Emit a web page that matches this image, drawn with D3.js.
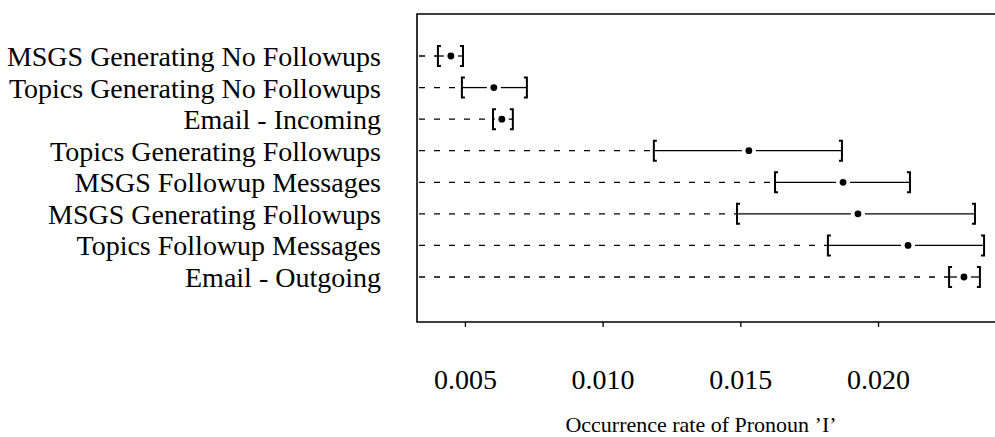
<!DOCTYPE html>
<html>
<head>
<meta charset="utf-8">
<script src="https://cdn.jsdelivr.net/npm/d3@7"></script>
<style>
  body { margin: 0; background: #fff; }
  text { font-family: "Liberation Serif", "Times New Roman", serif; fill: #000; }
</style>
</head>
<body>
<svg id="chart"></svg>
<script>
var width = 995;
var height = 437;

// groups, top to bottom
var categories = [
  "MSGS Generating No Followups",
  "Topics Generating No Followups",
  "Email - Incoming",
  "Topics Generating Followups",
  "MSGS Followup Messages",
  "MSGS Generating Followups",
  "Topics Followup Messages",
  "Email - Outgoing"
];
// interval low / estimate / high
var lower = [0.00402, 0.00489, 0.00602, 0.01186, 0.01626, 0.01488, 0.01818, 0.02258];
var mid   = [0.00449, 0.00605, 0.00634, 0.01531, 0.01873, 0.01927, 0.02109, 0.02312];
var upper = [0.00493, 0.00725, 0.00674, 0.01869, 0.02116, 0.02352, 0.02385, 0.02370];
var tickVals = [0.005, 0.010, 0.015, 0.020];
var xTitle = "Occurrence rate of Pronoun \u2019I\u2019";

var plotL = 417, plotT = 14, plotB = 322, plotR = 997;

var svg = d3.select("#chart").attr("width", width).attr("height", height);

var x = d3.scaleLinear().domain([0.00326, 0.02432]).range([plotL, plotR]);
var y = d3.scalePoint().domain(categories).range([56, 277]);

var rows = categories.map(function(c, i) {
  return {name: c, lo: lower[i], m: mid[i], hi: upper[i]};
});

// frame (left, top, bottom)
svg.append("path")
  .attr("d", "M" + plotR + "," + plotT + "H" + plotL + "V" + plotB + "H" + plotR)
  .attr("fill", "none")
  .attr("stroke", "#000")
  .attr("stroke-width", 1.6);

// row labels
svg.append("g").selectAll("text")
  .data(rows).enter().append("text")
  .attr("x", 381)
  .attr("y", function(d) { return y(d.name) + 10; })
  .attr("text-anchor", "end")
  .style("font-size", "28px")
  .text(function(d) { return d.name; });

var g = svg.append("g").selectAll("g")
  .data(rows).enter().append("g")
  .attr("transform", function(d) { return "translate(0," + y(d.name) + ")"; });

// dashed guide from the frame to the interval
g.append("line")
  .attr("x1", plotL + 2)
  .attr("x2", function(d) { return x(d.lo); })
  .attr("stroke", "#000")
  .attr("stroke-width", 1.3)
  .attr("stroke-dasharray", "6,9");

// whisker, broken around the dot
g.append("line")
  .attr("x1", function(d) { return x(d.lo); })
  .attr("x2", function(d) { return Math.max(x(d.lo), x(d.m) - 7); })
  .attr("stroke", "#000").attr("stroke-width", 1.3);
g.append("line")
  .attr("x1", function(d) { return Math.min(x(d.hi), x(d.m) + 7); })
  .attr("x2", function(d) { return x(d.hi); })
  .attr("stroke", "#000").attr("stroke-width", 1.3);

// brackets
function bracket(sel, key, dir) {
  sel.append("path")
    .attr("d", function(d) {
      var px = x(d[key]);
      return "M" + (px + 3 * dir) + ",-10H" + px + "V10H" + (px + 3 * dir);
    })
    .attr("fill", "none")
    .attr("stroke", "#000")
    .attr("stroke-width", 2);
}
bracket(g, "lo", 1);
bracket(g, "hi", -1);

g.append("circle")
  .attr("cx", function(d) { return x(d.m); })
  .attr("r", 3.4)
  .attr("fill", "#000");

// x axis
var axis = svg.append("g")
  .attr("transform", "translate(0," + plotB + ")")
  .call(d3.axisBottom(x).tickValues(tickVals).tickSize(5).tickFormat(d3.format(".3f")));
axis.select(".domain").remove();
axis.selectAll(".tick line").attr("stroke", "#000").attr("stroke-width", 1.3);
axis.selectAll(".tick text")
  .attr("y", 67)
  .attr("dy", null)
  .style("font-size", "28px")
  .style("font-family", "'Liberation Serif', serif")
  .attr("fill", "#000");

svg.append("text")
  .attr("x", 701)
  .attr("y", 432)
  .attr("text-anchor", "middle")
  .style("font-size", "22px")
  .text(xTitle);
</script>
</body>
</html>
